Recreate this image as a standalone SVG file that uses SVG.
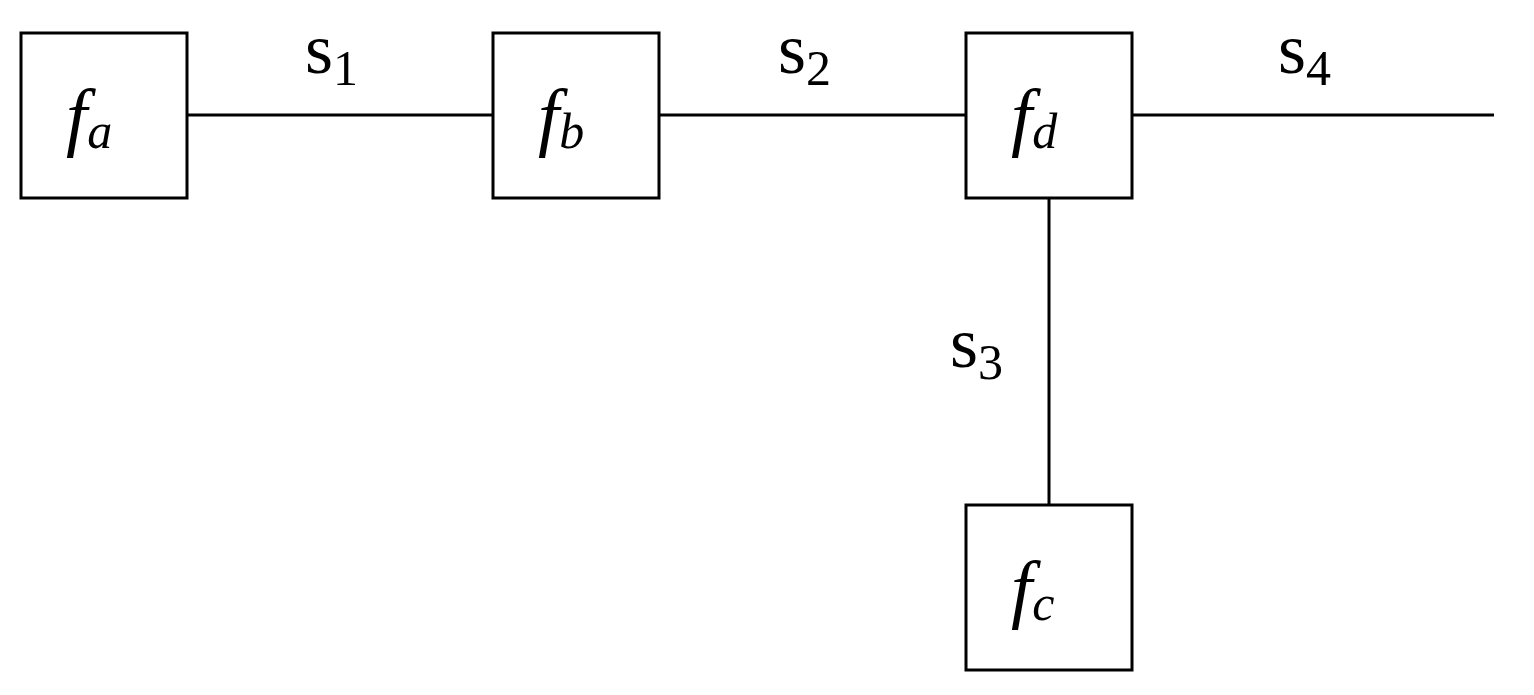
<svg xmlns="http://www.w3.org/2000/svg" width="1534" height="695" viewBox="0 0 1534 695">
<style>
rect{fill:#fff;stroke:#000;stroke-width:3}
line{stroke:#000;stroke-width:3}
text{font-family:"Liberation Serif",serif;fill:#000}
.f{font-size:76px;font-style:italic}
.sub{font-size:50px;font-style:italic}
.s{font-size:72px}
.n{font-size:50px}
</style>
<rect width="1534" height="695" style="fill:#fff;stroke:none"/>
<g id="connectors">
<line x1="187" y1="115" x2="493" y2="115"/>
<line x1="659" y1="115" x2="966" y2="115"/>
<line x1="1132" y1="115" x2="1494" y2="115"/>
<line x1="1049" y1="198" x2="1049" y2="505"/>
</g>
<g id="fa"><rect x="21" y="33" width="166" height="165"/><text x="66" y="142" class="f">f<tspan class="sub" dy="6">a</tspan></text></g>
<g id="fb"><rect x="493" y="33" width="166" height="165"/><text x="538" y="142" class="f">f<tspan class="sub" dy="6">b</tspan></text></g>
<g id="fd"><rect x="966" y="33" width="166" height="165"/><text x="1011" y="142" class="f">f<tspan class="sub" dy="6">d</tspan></text></g>
<g id="fc"><rect x="966" y="505" width="166" height="165"/><text x="1011" y="614" class="f">f<tspan class="sub" dy="6">c</tspan></text></g>
<g id="labels">
<text x="305" y="73" class="s">s<tspan class="n" dy="12">1</tspan></text>
<text x="778" y="73" class="s">s<tspan class="n" dy="12">2</tspan></text>
<text x="950" y="367" class="s">s<tspan class="n" dy="12">3</tspan></text>
<text x="1278" y="73" class="s">s<tspan class="n" dy="12">4</tspan></text>
</g>
</svg>
